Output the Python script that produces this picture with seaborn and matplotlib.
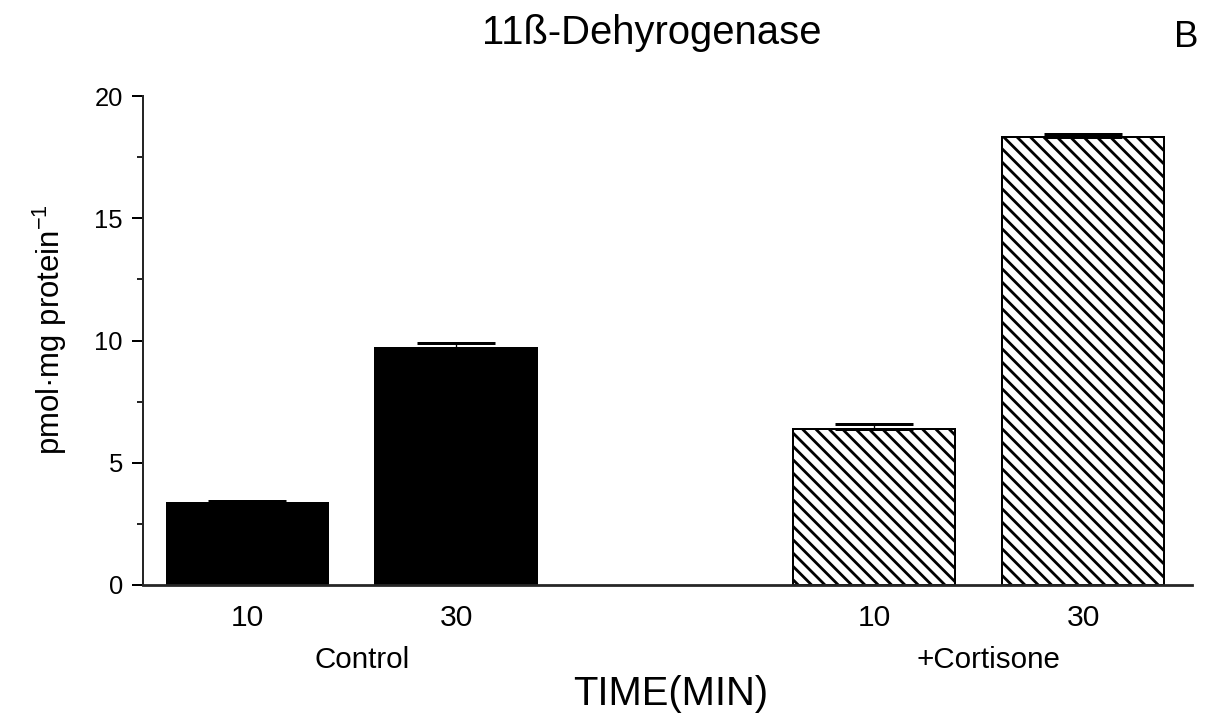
import matplotlib
matplotlib.use("Agg")
import matplotlib.pyplot as plt
import numpy as np
import pandas as pd
import seaborn as sns
from matplotlib.ticker import MultipleLocator

# ---- data ----
groups = ["Control", "Control", "+Cortisone", "+Cortisone"]
times = ["10", "30", "10", "30"]
values = [3.35, 9.69, 6.38, 18.32]
errors = [0.10, 0.20, 0.20, 0.13]
title = "11ß-Dehyrogenase"
panel = "B"
ylabel = r"pmol·mg protein$^{\mathregular{-1}}$"
xlabel = "TIME(MIN)"
yticks = [0, 5, 10, 15, 20]

sns.set_theme(style="ticks")
plt.rcParams["font.family"] = ["Liberation Sans", "DejaVu Sans"]
plt.rcParams["mathtext.fontset"] = "custom"
plt.rcParams["mathtext.rm"] = "Liberation Sans"
plt.rcParams["mathtext.it"] = "Liberation Sans:italic"
plt.rcParams["mathtext.bf"] = "Liberation Sans:bold"
plt.rcParams["hatch.linewidth"] = 2.5
plt.rcParams["hatch.color"] = "black"

slots = [f"{g} {t}" for g, t in zip(groups, times)]
order = [slots[0], slots[1], "gap", slots[2], slots[3]]
df = pd.DataFrame({"slot": slots, "value": values, "group": groups})

W, H, DPI = 1207, 720, 80
fig = plt.figure(figsize=(W / DPI, H / DPI), dpi=DPI)
ax = fig.add_axes([143 / W, 135 / H, 1049 / W, 489 / H])

sns.barplot(data=df, x="slot", y="value", hue="group", order=order,
            hue_order=["Control", "+Cortisone"],
            palette={"Control": "black", "+Cortisone": "white"},
            dodge=False, width=0.775, edgecolor="black", linewidth=1.8,
            errorbar=None, legend=False, ax=ax)

for p in ax.patches:
    fc = p.get_facecolor()
    if fc[0] > 0.5:
        p.set_hatch("\\\\")

xpos = [order.index(s) for s in slots]
ax.errorbar(xpos, values, yerr=[np.zeros(len(values)), errors], fmt="none",
            ecolor="black", elinewidth=1.2, capsize=35.5, capthick=2.7, zorder=5)

ax.set_xlim(-0.5, 4.52)
ax.set_ylim(0, 20)
ax.set_yticks(yticks)
ax.yaxis.set_minor_locator(MultipleLocator(2.5))
ax.set_xticks(range(len(order)))
ax.set_xticklabels(["10", "30", "", "10", "30"])

sns.despine(ax=ax)
ax.spines["left"].set_linewidth(1.8)
ax.spines["bottom"].set_linewidth(2.5)
ax.tick_params(axis="y", which="major", direction="out", length=10, width=1.8,
               labelsize=23, pad=8, colors="black")
ax.tick_params(axis="y", which="minor", direction="out", length=5.4, width=1.8)
ax.tick_params(axis="x", length=0, labelsize=27, pad=17, colors="black")

ax.set_xlabel("")
ax.set_ylabel(ylabel, fontsize=28, color="black")
ax.yaxis.label.set_rotation_mode("default")
ax.yaxis.label.set_va("center")
ax.yaxis.set_label_coords((50 - 143) / 1049, (585 - 330) / 489)

for g in ["Control", "+Cortisone"]:
    gx = np.mean([x for x, gg in zip(xpos, groups) if gg == g])
    ax.annotate(g, xy=(gx, H - 668), xycoords=("data", "figure pixels"),
                xytext=(9, 0), textcoords="offset points",
                ha="center", va="baseline", fontsize=26.5, color="black")

fig.text(671 / W, 1 - 705 / H, xlabel, ha="center", va="baseline",
         fontsize=36, color="black")
fig.text(652 / W, 1 - 44 / H, title, ha="center", va="baseline",
         fontsize=36, color="black")
fig.text(1186 / W, 1 - 47 / H, panel, ha="center", va="baseline",
         fontsize=33, color="black")

fig.savefig("out.png", dpi=DPI, facecolor="white")
